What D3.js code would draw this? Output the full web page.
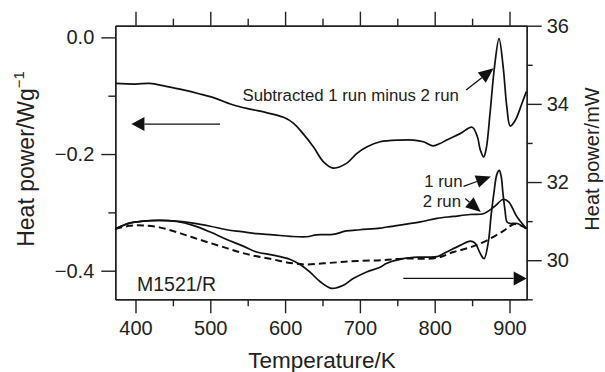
<!DOCTYPE html>
<html>
<head>
<meta charset="utf-8">
<script src="https://cdn.jsdelivr.net/npm/d3@7"></script>
<style>
  body { margin: 0; background: #fff; }
  svg text { font-family: "Liberation Sans", Arial, Helvetica, sans-serif; fill: #222; }
</style>
</head>
<body>
<svg id="chart" width="605" height="372"></svg>
<script>
// Subtracted curve (1 run minus 2 run), left axis, W/g  -> [T/K, value]
var subtracted = [
    [373, -0.079], [400, -0.080], [419, -0.079], [441, -0.084], [464, -0.090],
    [486, -0.097], [508, -0.105], [531, -0.116], [553, -0.123], [575, -0.129],
    [598, -0.137], [611, -0.147], [624, -0.165], [638, -0.188], [651, -0.213],
    [664, -0.224], [682, -0.216], [696, -0.199], [709, -0.188], [727, -0.179],
    [754, -0.176], [772, -0.176], [785, -0.179], [798, -0.186], [807, -0.182],
    [816, -0.176], [834, -0.165], [850, -0.154], [857, -0.170], [861, -0.193],
    [865.5, -0.205], [869, -0.190], [874, -0.130], [880, -0.050], [886, -0.002],
    [891.5, -0.050], [896.5, -0.120], [901, -0.152], [907.8, -0.142], [916.7, -0.113],
    [922.5, -0.093]
];

// 1 run, right axis, mW
var run1 = [
    [373, 30.80], [392, 30.95], [410, 31.00], [432, 31.02], [455, 30.99],
    [477, 30.89], [500, 30.72], [522, 30.53], [544, 30.36], [562, 30.21],
    [584, 30.13], [607, 30.02], [620, 29.89], [633, 29.70], [647, 29.45],
    [662, 29.28], [678, 29.36], [691, 29.53], [709, 29.70], [727, 29.82],
    [736, 29.92], [758, 30.04], [781, 30.08], [803, 30.09], [816, 30.21],
    [834, 30.38], [847.5, 30.49], [854, 30.44], [861, 30.17], [866, 30.04],
    [872, 30.51], [875.2, 31.11], [879, 31.70], [883.3, 32.21], [886.4, 32.30],
    [889, 32.13], [891.3, 31.70], [894, 31.28], [896.7, 30.98], [901, 30.94],
    [910, 30.94], [922.5, 30.81]
];

// 2 run, right axis, mW
var run2 = [
    [373, 30.80], [392, 30.95], [410, 31.00], [432, 31.02], [455, 31.00],
    [477, 30.95], [500, 30.87], [522, 30.78], [542, 30.73], [562, 30.68],
    [584, 30.65], [607, 30.61], [629, 30.60], [642, 30.65], [664, 30.66],
    [682, 30.75], [700, 30.78], [727, 30.82], [736, 30.85], [758, 30.91],
    [781, 30.98], [803, 31.07], [825, 31.12], [847.5, 31.17], [865, 31.19],
    [879, 31.36], [892, 31.56], [899, 31.49], [910, 31.11], [922.5, 30.81]
];

// dashed curve, right axis, mW
var dashed = [
    [373, 30.80], [392, 30.88], [410, 30.89], [432, 30.84], [455, 30.72],
    [477, 30.58], [500, 30.44], [522, 30.31], [542, 30.19], [562, 30.10],
    [584, 30.02], [607, 29.93], [629, 29.89], [651, 29.92], [673, 29.95],
    [696, 29.98], [727, 30.00], [758, 30.04], [803, 30.06], [825, 30.21],
    [847.5, 30.33], [870, 30.51], [892, 30.75], [905.5, 30.92], [914.5, 30.89],
    [922.5, 30.81]
];

// ticks
var xMajor = [400, 500, 600, 700, 800, 900];
var xMinor = [450, 550, 650, 750, 850];
var yLeftMajor = [0, -0.2, -0.4];
var yLeftMinor = [-0.1, -0.3];
var yRightMajor = [30, 32, 34, 36];
var yRightMinor = [29, 31, 33, 35];

var svg = d3.select("#chart");
var pLeft = 115.3, pTop = 25.7, pRight = 526.7, pBottom = 299.3;   // plot box

var x = d3.scaleLinear().domain([373, 923]).range([pLeft, pRight]);
var yL = d3.scaleLinear().domain([-0.449, 0.02]).range([pBottom, pTop]);
var yR = d3.scaleLinear().domain([29, 36]).range([pBottom, pTop]);

function styleAxis(g) {
    g.selectAll("path.domain").attr("stroke", "#222").attr("stroke-width", 1.4);
    g.selectAll(".tick line").attr("stroke", "#222").attr("stroke-width", 1.4);
    g.selectAll("text").attr("font-size", 20).attr("fill", "#222")
        .attr("font-family", "Liberation Sans, Arial, sans-serif");
}

// bottom
svg.append("g").attr("transform", "translate(0," + pBottom + ")")
    .call(d3.axisBottom(x).tickValues(xMajor).tickSize(14).tickSizeOuter(0).tickPadding(8).tickFormat(d3.format("d")))
    .call(styleAxis);
svg.append("g").attr("transform", "translate(0," + pBottom + ")")
    .call(d3.axisBottom(x).tickValues(xMinor).tickSize(7).tickSizeOuter(0).tickFormat(""))
    .call(styleAxis);
// top
svg.append("g").attr("transform", "translate(0," + pTop + ")")
    .call(d3.axisTop(x).tickValues(xMajor).tickSize(14).tickSizeOuter(0).tickFormat(""))
    .call(styleAxis);
svg.append("g").attr("transform", "translate(0," + pTop + ")")
    .call(d3.axisTop(x).tickValues(xMinor).tickSize(7).tickSizeOuter(0).tickFormat(""))
    .call(styleAxis);
// left
svg.append("g").attr("transform", "translate(" + pLeft + ",0)")
    .call(d3.axisLeft(yL).tickValues(yLeftMajor).tickSize(14).tickSizeOuter(0).tickPadding(7).tickFormat(d3.format(".1f")))
    .call(styleAxis);
svg.append("g").attr("transform", "translate(" + pLeft + ",0)")
    .call(d3.axisLeft(yL).tickValues(yLeftMinor).tickSize(7).tickSizeOuter(0).tickFormat(""))
    .call(styleAxis);
// right
svg.append("g").attr("transform", "translate(" + pRight + ",0)")
    .call(d3.axisRight(yR).tickValues(yRightMajor).tickSize(15).tickSizeOuter(0).tickPadding(5).tickFormat(d3.format("d")))
    .call(styleAxis);
svg.append("g").attr("transform", "translate(" + pRight + ",0)")
    .call(d3.axisRight(yR).tickValues(yRightMinor).tickSize(6).tickSizeOuter(0).tickFormat(""))
    .call(styleAxis);

// axis titles
svg.append("text")
    .attr("x", (pLeft + pRight) / 2 + 1).attr("y", 368)
    .attr("text-anchor", "middle").attr("font-size", 22.5)
    .text("Temperature/K");

var lt = svg.append("text")
    .attr("transform", "translate(34,159) rotate(-90)")
    .attr("text-anchor", "middle").attr("font-size", 23);
lt.append("tspan").text("Heat power/Wg");
lt.append("tspan").attr("dy", -10).attr("font-size", 15).text("\u22121");

svg.append("text")
    .attr("transform", "translate(599,159) rotate(-90)")
    .attr("text-anchor", "middle").attr("font-size", 20)
    .text("Heat power/mW");

// curves
var lineL = d3.line().x(function(d){ return x(d[0]); }).y(function(d){ return yL(d[1]); })
    .curve(d3.curveCatmullRom.alpha(0.5));
var lineR = d3.line().x(function(d){ return x(d[0]); }).y(function(d){ return yR(d[1]); })
    .curve(d3.curveCatmullRom.alpha(0.5));

svg.append("path").datum(subtracted).attr("d", lineL)
    .attr("fill", "none").attr("stroke", "#111").attr("stroke-width", 1.7);
svg.append("path").datum(run2).attr("d", lineR)
    .attr("fill", "none").attr("stroke", "#111").attr("stroke-width", 1.7);
svg.append("path").datum(run1).attr("d", lineR)
    .attr("fill", "none").attr("stroke", "#111").attr("stroke-width", 1.7);
svg.append("path").datum(dashed).attr("d", lineR)
    .attr("fill", "none").attr("stroke", "#111").attr("stroke-width", 2)
    .attr("stroke-dasharray", "7,4");

// arrow helper: line from (x1,y1) to tip (x2,y2) with filled head
function arrow(x1, y1, x2, y2, headLen, headHalf) {
    var dx = x2 - x1, dy = y2 - y1;
    var len = Math.sqrt(dx * dx + dy * dy);
    var ux = dx / len, uy = dy / len;
    var bx = x2 - ux * headLen, by = y2 - uy * headLen;
    svg.append("line").attr("x1", x1).attr("y1", y1).attr("x2", bx).attr("y2", by)
        .attr("stroke", "#111").attr("stroke-width", 1.3);
    svg.append("path")
        .attr("d", "M" + x2 + "," + y2 +
            "L" + (bx - uy * headHalf) + "," + (by + ux * headHalf) +
            "L" + (bx + uy * headHalf) + "," + (by - ux * headHalf) + "Z")
        .attr("fill", "#111");
}

// axis direction arrows
arrow(x(513), yL(-0.1486), x(394.6), yL(-0.1486), 13, 7);
arrow(x(758), yR(29.533), x(923), yR(29.533), 13, 7);

// annotations
svg.append("text").attr("x", x(543)).attr("y", yL(-0.1083))
    .attr("font-size", 16.8).text("Subtracted 1 run minus 2 run");
arrow(x(842), yL(-0.0903), x(878.7), yL(-0.0531), 15, 6.5);

svg.append("text").attr("x", x(786)).attr("y", yR(31.87))
    .attr("font-size", 16.8).text("1 run");
arrow(x(838.6), yR(31.89), x(875.2), yR(32.145), 15, 6.5);

svg.append("text").attr("x", x(784)).attr("y", yR(31.36))
    .attr("font-size", 16.8).text("2 run");
arrow(x(840.8), yR(31.576), x(861.6), yR(31.234), 15, 6.5);

svg.append("text").attr("x", x(402)).attr("y", yR(29.217))
    .attr("font-size", 19.5).text("M1521/R");
</script>
</body>
</html>
